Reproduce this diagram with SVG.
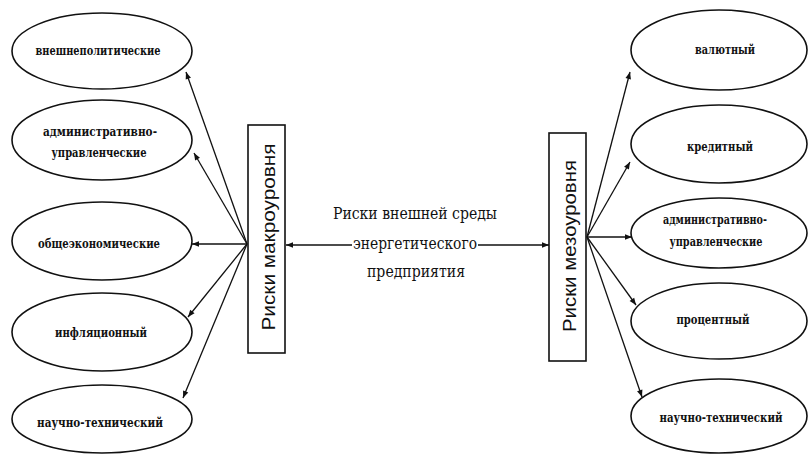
<svg xmlns="http://www.w3.org/2000/svg" width="809" height="459" viewBox="0 0 809 459">
<style>
.el{fill:none;stroke:#111;stroke-width:1.6}
.bx{fill:#fff;stroke:#111;stroke-width:1.6}
.lt{font-family:"DejaVu Serif","Liberation Serif",serif;font-size:12px;font-weight:bold;fill:#111;text-anchor:middle}
.bt{font-family:"Liberation Sans",Arial,sans-serif;font-size:19px;fill:#111;text-anchor:middle}
.ct{font-family:"DejaVu Serif","Liberation Serif",serif;font-size:16px;fill:#111;text-anchor:middle}
.cn{stroke:#111;stroke-width:1.3;fill:none;marker-end:url(#ah)}
</style>
<defs>
<marker id="ah" viewBox="0 0 10 10" refX="10" refY="5" markerWidth="9" markerHeight="7" orient="auto" markerUnits="userSpaceOnUse"><path d="M0,1 L10,5 L0,9 z" fill="#111"/></marker>
</defs>
<rect width="809" height="459" fill="#fff"/>
<g id="connectors">
<line class="cn" x1="247" y1="244" x2="186" y2="72"/>
<line class="cn" x1="247" y1="244" x2="194" y2="153"/>
<line class="cn" x1="247" y1="244" x2="192" y2="244"/>
<line class="cn" x1="247" y1="244" x2="188" y2="317"/>
<line class="cn" x1="247" y1="244" x2="183" y2="398"/>
<line class="cn" x1="587" y1="237" x2="630" y2="72"/>
<line class="cn" x1="587" y1="237" x2="630" y2="162"/>
<line class="cn" x1="587" y1="237" x2="632" y2="237"/>
<line class="cn" x1="587" y1="237" x2="636" y2="305"/>
<line class="cn" x1="587" y1="237" x2="642" y2="397"/>
<line class="cn" x1="352" y1="245" x2="286" y2="245"/>
<line class="cn" x1="478" y1="245" x2="549" y2="245"/>
</g>
<g id="macro">
<rect class="bx" x="248" y="125" width="37" height="228"/>
<text class="bt" transform="translate(275,237) rotate(-90)" textLength="187" lengthAdjust="spacingAndGlyphs">Риски макроуровня</text>
</g>
<g id="meso">
<rect class="bx" x="549" y="133" width="37" height="228"/>
<text class="bt" transform="translate(576,246) rotate(-90)" textLength="172" lengthAdjust="spacingAndGlyphs">Риски мезоуровня</text>
</g>
<g id="center">
<text class="ct" x="415" y="219" textLength="164" lengthAdjust="spacingAndGlyphs">Риски внешней среды</text>
<text class="ct" x="415" y="249" textLength="124" lengthAdjust="spacingAndGlyphs">энергетического</text>
<text class="ct" x="416" y="277" textLength="98" lengthAdjust="spacingAndGlyphs">предприятия</text>
</g>
<g id="l1"><ellipse class="el" cx="102" cy="51" rx="90" ry="38"/><text class="lt" x="98" y="55" textLength="125" lengthAdjust="spacingAndGlyphs">внешнеполитические</text></g>
<g id="l2"><ellipse class="el" cx="102" cy="140" rx="90" ry="40"/><text class="lt" x="100" y="136" textLength="114" lengthAdjust="spacingAndGlyphs">административно-</text><text class="lt" x="99" y="157" textLength="95" lengthAdjust="spacingAndGlyphs">управленческие</text></g>
<g id="l3"><ellipse class="el" cx="102" cy="241" rx="90" ry="39"/><text class="lt" x="99" y="248" textLength="122" lengthAdjust="spacingAndGlyphs">общеэкономические</text></g>
<g id="l4"><ellipse class="el" cx="102" cy="332" rx="90" ry="39"/><text class="lt" x="101" y="337" textLength="92" lengthAdjust="spacingAndGlyphs">инфляционный</text></g>
<g id="l5"><ellipse class="el" cx="102" cy="419" rx="90" ry="34"/><text class="lt" x="100" y="427" textLength="126" lengthAdjust="spacingAndGlyphs">научно-технический</text></g>
<g id="r1"><ellipse class="el" cx="719" cy="50" rx="88" ry="40"/><text class="lt" x="725" y="54" textLength="60" lengthAdjust="spacingAndGlyphs">валютный</text></g>
<g id="r2"><ellipse class="el" cx="719" cy="144" rx="88" ry="39"/><text class="lt" x="720" y="151" textLength="66" lengthAdjust="spacingAndGlyphs">кредитный</text></g>
<g id="r3"><ellipse class="el" cx="719" cy="233" rx="88" ry="35"/><text class="lt" x="715" y="224" textLength="104" lengthAdjust="spacingAndGlyphs">административно-</text><text class="lt" x="716" y="246" textLength="93" lengthAdjust="spacingAndGlyphs">управленческие</text></g>
<g id="r4"><ellipse class="el" cx="719" cy="321" rx="88" ry="38"/><text class="lt" x="713" y="324" textLength="73" lengthAdjust="spacingAndGlyphs">процентный</text></g>
<g id="r5"><ellipse class="el" cx="719" cy="416" rx="88" ry="37"/><text class="lt" x="721" y="422" textLength="123" lengthAdjust="spacingAndGlyphs">научно-технический</text></g>
</svg>
